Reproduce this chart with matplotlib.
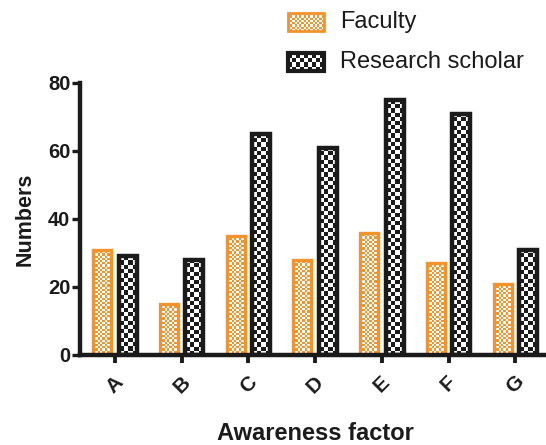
import numpy as np
import matplotlib
matplotlib.use("Agg")
import matplotlib.pyplot as plt
from matplotlib.patches import Rectangle

categories = ["A", "B", "C", "D", "E", "F", "G"]
faculty = [31, 15, 35, 28, 36, 27, 21]
research_scholar = [29, 28, 65, 61, 75, 71, 31]
y_ticks = [0, 20, 40, 60, 80]

ORANGE = "#F4922C"
BLACK = "#1b1b1b"

plt.rcParams["font.family"] = ["Liberation Sans", "DejaVu Sans"]

fig = plt.figure(figsize=(5.46, 4.45), dpi=100)
ax = fig.add_axes([80 / 546, 90 / 445, 466 / 546, 272 / 445])

x = np.arange(len(categories))
width = 0.27
off = 0.19


def checker(h_px, w_px, sq):
    rows = max(1, int(round(h_px / sq)))
    cols = max(1, int(round(w_px / sq)))
    r, c = np.indices((rows, cols))
    return (r + c) % 2


def fill_checker(axis, bar, colour, sq):
    x0, y0 = bar.get_x(), bar.get_y()
    x1, y1 = x0 + bar.get_width(), y0 + bar.get_height()
    p0 = axis.transData.transform((x0, y0))
    p1 = axis.transData.transform((x1, y1))
    w_px, h_px = abs(p1[0] - p0[0]), abs(p1[1] - p0[1])
    board = checker(h_px, w_px, sq)
    rgb = np.ones(board.shape + (3,))
    col = np.array(matplotlib.colors.to_rgb(colour))
    rgb[board == 1] = col
    im = axis.imshow(rgb, extent=(x0, x1, y0, y1), origin="lower",
                     interpolation="nearest", aspect="auto", zorder=2)
    im.set_clip_path(bar)


ax.set_xlim(-0.525, 6.46)
ax.set_ylim(0, 80)

bars_f = ax.bar(x - off, faculty, width, facecolor="none", edgecolor=ORANGE,
                linewidth=2.4, zorder=3, label="Faculty")
bars_r = ax.bar(x + off, research_scholar, width, facecolor="none", edgecolor=BLACK,
                linewidth=3.2, zorder=3, label="Research scholar")
for b in bars_f:
    fill_checker(ax, b, ORANGE, 2.2)
for b in bars_r:
    fill_checker(ax, b, BLACK, 4.2)

ax.set_xlim(-0.525, 6.46)
ax.set_ylim(0, 80)

for side in ("top", "right"):
    ax.spines[side].set_visible(False)
for side in ("left", "bottom"):
    ax.spines[side].set_linewidth(3.2)
    ax.spines[side].set_color(BLACK)
    ax.spines[side].set_capstyle("projecting")
    ax.spines[side].set_zorder(4)

ax.set_yticks(y_ticks)
ax.set_xticks(x)
ax.set_xticklabels(categories, rotation=45, ha="center", va="top")
ax.tick_params(axis="y", length=6, width=2.4, color=BLACK, labelsize=14.5, pad=1)
ax.tick_params(axis="x", length=5.5, width=2.8, color=BLACK, labelsize=15, pad=7)
for lab in ax.get_xticklabels() + ax.get_yticklabels():
    lab.set_fontweight("bold")
    lab.set_color(BLACK)

ax.set_ylabel("Numbers", fontsize=15.5, fontweight="bold", color=BLACK, labelpad=9)
fig.text(315 / 546, 1 - 434 / 445, "Awareness factor", ha="center", va="center",
         fontsize=17, fontweight="bold", color=BLACK)

# legend swatches
legend_items = [("Faculty", ORANGE, 2.2, 2.0, 22), ("Research scholar", BLACK, 4.2, 3.0, 62)]
for label, colour, sq, lw, yc in legend_items:
    sw = fig.add_axes([288 / 546, 1 - (yc + 9) / 445, 36 / 546, 18 / 445])
    sw.set_xlim(0, 1)
    sw.set_ylim(0, 1)
    sw.axis("off")
    rect = Rectangle((0, 0), 1, 1, facecolor="none", edgecolor=colour,
                     linewidth=lw, zorder=3, transform=sw.transData, clip_on=False)
    sw.add_patch(rect)
    fill_checker(sw, rect, colour, sq)
    sw.set_xlim(0, 1)
    sw.set_ylim(0, 1)
    fig.text(340 / 546, 1 - yc / 445, label, ha="left", va="center",
             fontsize=17, color=BLACK)

fig.savefig("out.png", dpi=100)
